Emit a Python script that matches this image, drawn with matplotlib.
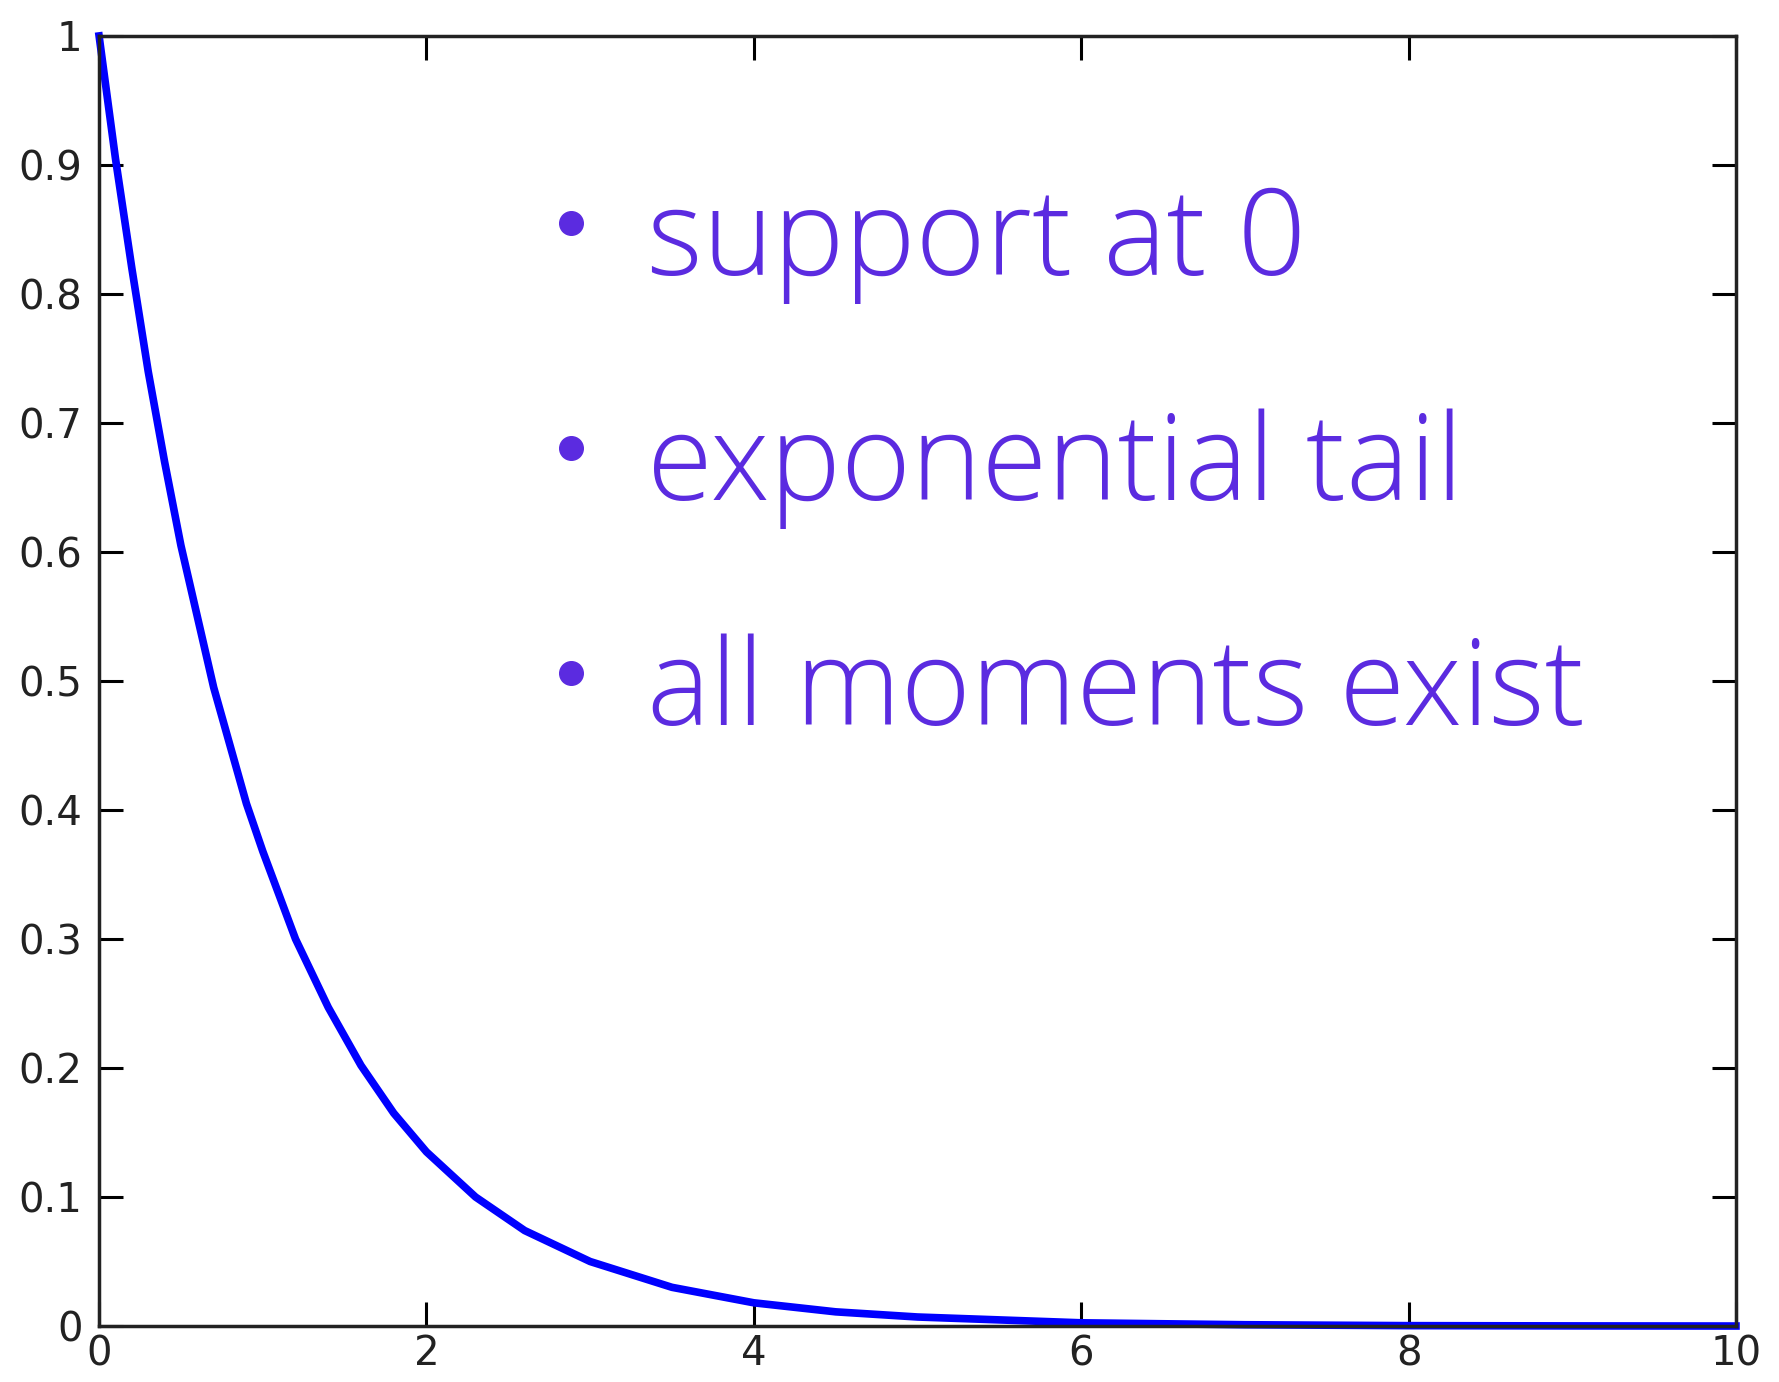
import matplotlib
matplotlib.use("Agg")
import matplotlib.pyplot as plt

# survival curve, values read along the decay
xs = [0, 0.1, 0.2, 0.3, 0.4, 0.5, 0.6, 0.7, 0.8, 0.9, 1.0, 1.2, 1.4, 1.6,
      1.8, 2.0, 2.3, 2.6, 3.0, 3.5, 4.0, 4.5, 5.0, 6.0, 7.0, 8.0, 9.0, 10.0]
ys = [1.0, 0.905, 0.82, 0.74, 0.67, 0.605, 0.55, 0.495, 0.45, 0.405, 0.368,
      0.30, 0.247, 0.202, 0.165, 0.135, 0.10, 0.074, 0.05, 0.03, 0.018,
      0.011, 0.007, 0.0025, 0.001, 0.0003, 0.0001, 0.0]

bullets = ["support at 0", "exponential tail", "all moments exist"]

xticks = [0, 2, 4, 6, 8, 10]
yticks = [0, 0.1, 0.2, 0.3, 0.4, 0.5, 0.6, 0.7, 0.8, 0.9, 1]
yticklabels = ["0", "0.1", "0.2", "0.3", "0.4", "0.5", "0.6", "0.7", "0.8", "0.9", "1"]

fig = plt.figure(figsize=(17.79, 13.82), dpi=100)
ax = fig.add_axes([0.0557, 0.0405, 0.9201, 0.9335])

ax.plot(xs, ys, color="#0000ff", lw=5.5, solid_joinstyle="round", clip_on=False)

ax.set_xlim(0, 10)
ax.set_ylim(0, 1)
ax.set_xticks(xticks)
ax.set_xticklabels([str(t) for t in xticks])
ax.set_yticks(yticks)
ax.set_yticklabels(yticklabels)
ax.tick_params(direction="in", length=17, width=2.2, top=True, right=True,
               labelsize=29, labelcolor="#222222")
ax.tick_params(axis="x", pad=6)
ax.tick_params(axis="y", pad=12)
for s in ax.spines.values():
    s.set_linewidth(2.5)
    s.set_color("#222222")

purple = "#5b2be0"
for i, txt in enumerate(bullets):
    yb = 0.855 - i * 0.1745
    ax.plot([2.88], [yb], "o", ms=17, color=purple)
    ax.text(3.35, yb - 0.04, txt, color=purple, fontsize=86, family="Open Sans",
            fontweight="light", va="baseline", ha="left")

fig.savefig("out.png", dpi=100)
